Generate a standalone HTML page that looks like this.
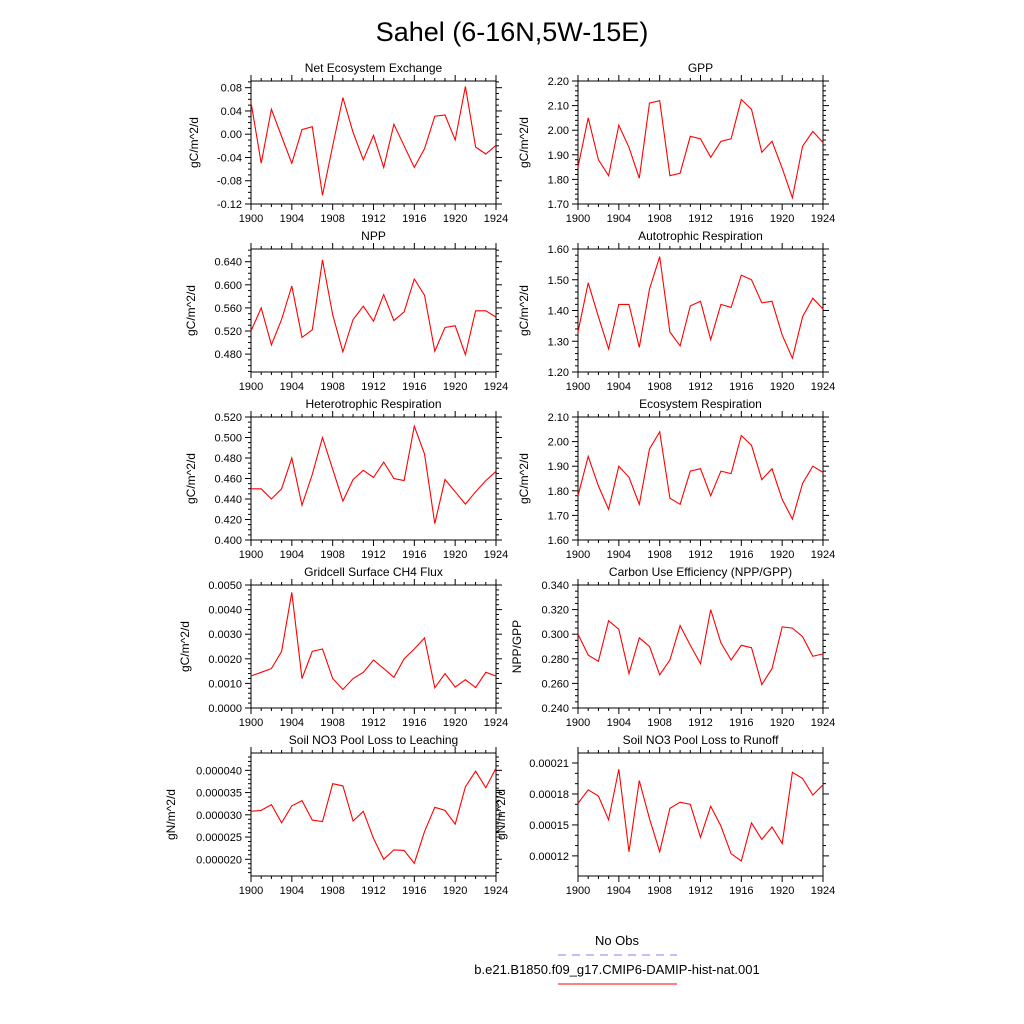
<!DOCTYPE html>
<html><head><meta charset="utf-8"><style>
html,body{margin:0;padding:0;background:#fff;}
svg{display:block;font-family:"Liberation Sans",Arial,sans-serif;}
</style></head><body>
<svg id="fig" width="1024" height="1024" viewBox="0 0 1024 1024">
<rect width="1024" height="1024" fill="#fff"/>
<text x="512" y="41" font-size="27" text-anchor="middle">Sahel (6-16N,5W-15E)</text>
<g>
<text x="617" y="945" font-size="13" text-anchor="middle">No Obs</text>
<line x1="558" y1="955" x2="677" y2="955" stroke="#8080ff" stroke-width="1" stroke-dasharray="8,6"/>
<text x="617" y="974" font-size="13" text-anchor="middle">b.e21.B1850.f09_g17.CMIP6-DAMIP-hist-nat.001</text>
<line x1="558" y1="984" x2="677" y2="984" stroke="#ff0000" stroke-width="1"/>
</g>
</svg>
<script>
const years = [1900,1901,1902,1903,1904,1905,1906,1907,1908,1909,1910,1911,1912,1913,1914,1915,1916,1917,1918,1919,1920,1921,1922,1923,1924];
const xTicks = [1900,1904,1908,1912,1916,1920,1924];
const neeValues = [0.055,-0.05,0.043,-0.004,-0.05,0.008,0.013,-0.105,-0.02,0.063,0.003,-0.044,-0.002,-0.057,0.017,-0.02,-0.057,-0.025,0.031,0.033,-0.01,0.082,-0.022,-0.034,-0.019];
const gppValues = [1.85,2.05,1.88,1.815,2.02,1.93,1.805,2.11,2.12,1.815,1.825,1.975,1.965,1.89,1.955,1.965,2.125,2.085,1.91,1.955,1.845,1.725,1.935,1.995,1.95];
const nppValues = [0.520,0.560,0.496,0.540,0.598,0.509,0.522,0.643,0.548,0.484,0.540,0.563,0.537,0.583,0.538,0.553,0.610,0.582,0.485,0.526,0.529,0.479,0.555,0.555,0.544];
const arValues = [1.33,1.49,1.38,1.275,1.42,1.42,1.28,1.47,1.575,1.33,1.285,1.415,1.43,1.305,1.42,1.41,1.515,1.50,1.425,1.43,1.32,1.245,1.38,1.44,1.405];
const hrValues = [0.450,0.450,0.440,0.450,0.480,0.434,0.464,0.500,0.469,0.438,0.459,0.468,0.461,0.476,0.460,0.458,0.511,0.484,0.416,0.459,0.447,0.435,0.447,0.458,0.467];
const erValues = [1.78,1.94,1.82,1.725,1.90,1.855,1.745,1.97,2.04,1.77,1.745,1.88,1.89,1.78,1.88,1.87,2.025,1.985,1.845,1.89,1.765,1.685,1.83,1.90,1.875];
const ch4Values = [0.0013,0.00145,0.0016,0.0023,0.0047,0.0012,0.0023,0.0024,0.0012,0.00075,0.0012,0.00145,0.00195,0.0016,0.00125,0.002,0.0024,0.00285,0.00082,0.0014,0.00085,0.00115,0.00083,0.00145,0.0013];
const cueValues = [0.300,0.283,0.278,0.311,0.304,0.268,0.297,0.290,0.267,0.279,0.307,0.291,0.276,0.320,0.293,0.279,0.291,0.289,0.259,0.272,0.306,0.305,0.298,0.282,0.284];
const leachValues = [30.8e-6,31.0e-6,32.3e-6,28.2e-6,32.0e-6,33.2e-6,28.8e-6,28.5e-6,37.0e-6,36.5e-6,28.6e-6,30.8e-6,24.7e-6,20.0e-6,22.1e-6,22.0e-6,19.1e-6,26.2e-6,31.7e-6,31.0e-6,27.9e-6,36.3e-6,39.8e-6,36.1e-6,40.5e-6];
const runoffValues = [17.1e-5,18.4e-5,17.8e-5,15.5e-5,20.4e-5,12.4e-5,19.3e-5,15.6e-5,12.4e-5,16.6e-5,17.2e-5,17.0e-5,13.8e-5,16.8e-5,14.9e-5,12.2e-5,11.5e-5,15.2e-5,13.6e-5,14.8e-5,13.2e-5,20.1e-5,19.5e-5,17.9e-5,18.9e-5];
const neeTicks = ["-0.12","-0.08","-0.04","0.00","0.04","0.08"];
const gppTicks = ["1.70","1.80","1.90","2.00","2.10","2.20"];
const nppTicks = ["0.480","0.520","0.560","0.600","0.640"];
const arTicks = ["1.20","1.30","1.40","1.50","1.60"];
const hrTicks = ["0.400","0.420","0.440","0.460","0.480","0.500","0.520"];
const erTicks = ["1.60","1.70","1.80","1.90","2.00","2.10"];
const ch4Ticks = ["0.0000","0.0010","0.0020","0.0030","0.0040","0.0050"];
const cueTicks = ["0.240","0.260","0.280","0.300","0.320","0.340"];
const leachTicks = ["0.000020","0.000025","0.000030","0.000035","0.000040"];
const runoffTicks = ["0.00012","0.00015","0.00018","0.00021"];

const panels = [
 {id:'nee',title:'Net Ecosystem Exchange',col:0,row:0,vals:neeValues,ticks:neeTicks,min:-0.12,max:0.0915,minor:4,yl:'gC/m^2/d',ylx:198},
 {id:'gpp',title:'GPP',col:1,row:0,vals:gppValues,ticks:gppTicks,min:1.70,max:2.20,minor:5,yl:'gC/m^2/d',ylx:528},
 {id:'npp',title:'NPP',col:0,row:1,vals:nppValues,ticks:nppTicks,min:0.449,max:0.662,minor:4,yl:'gC/m^2/d',ylx:195},
 {id:'ar',title:'Autotrophic Respiration',col:1,row:1,vals:arValues,ticks:arTicks,min:1.20,max:1.60,minor:5,yl:'gC/m^2/d',ylx:528},
 {id:'hr',title:'Heterotrophic Respiration',col:0,row:2,vals:hrValues,ticks:hrTicks,min:0.40,max:0.52,minor:4,yl:'gC/m^2/d',ylx:195},
 {id:'er',title:'Ecosystem Respiration',col:1,row:2,vals:erValues,ticks:erTicks,min:1.60,max:2.10,minor:5,yl:'gC/m^2/d',ylx:528},
 {id:'ch4',title:'Gridcell Surface CH4 Flux',col:0,row:3,vals:ch4Values,ticks:ch4Ticks,min:0,max:0.005,minor:5,yl:'gC/m^2/d',ylx:189},
 {id:'cue',title:'Carbon Use Efficiency (NPP/GPP)',col:1,row:3,vals:cueValues,ticks:cueTicks,min:0.24,max:0.34,minor:4,yl:'NPP/GPP',ylx:521},
 {id:'leach',title:'Soil NO3 Pool Loss to Leaching',col:0,row:4,vals:leachValues,ticks:leachTicks,min:16.24e-6,max:43.9e-6,minor:5,yl:'gN/m^2/d',ylx:175},
 {id:'runoff',title:'Soil NO3 Pool Loss to Runoff',col:1,row:4,vals:runoffValues,ticks:runoffTicks,min:10.05e-5,max:21.97e-5,minor:3,yl:'gN/m^2/d',ylx:505}
];
const NS='http://www.w3.org/2000/svg';
const svg=document.getElementById('fig');
function mk(tag,attrs,parent){const e=document.createElementNS(NS,tag);for(const k in attrs)e.setAttribute(k,attrs[k]);parent.appendChild(e);return e;}
panels.forEach(p=>{
 const L=p.col?578:251, R=p.col?823:496, T=81+168*p.row, B=T+123;
 const g=mk('g',{},svg);
 
 
 const xs=v=>L+(v-1900)/24*(R-L);
 const ys=v=>B-(v-p.min)/(p.max-p.min)*(B-T);
 const ax=mk('g',{stroke:'#000','stroke-width':1,fill:'none'},g);
 
 
 mk('rect',{x:L,y:T,width:R-L,height:B-T},ax);
 // x ticks
 for(let y=1900;y<=1924;y++){const x=xs(y);const len=(y%4===0)?6:3;
  mk('line',{x1:x,y1:B,x2:x,y2:B+len},ax);mk('line',{x1:x,y1:T,x2:x,y2:T-len},ax);}
 xTicks.forEach(y=>{const t=mk('text',{x:xs(y),y:B+18,'font-size':11,'text-anchor':'middle'},g);t.textContent=y;
  
  });
 // y ticks
 const vals=p.ticks.map(Number);const step=vals[1]-vals[0];
 const ms=step/p.minor;
 for(let v=vals[0]-step;v<=p.max+1e-12;v+=ms){if(v<p.min-1e-12)continue;const y=ys(v);
  const isMaj=vals.some(t=>Math.abs(t-v)<ms*0.1);const len=isMaj?6:3;
  mk('line',{x1:L,y1:y,x2:L-len,y2:y},ax);mk('line',{x1:R,y1:y,x2:R+len,y2:y},ax);}
 p.ticks.forEach((s,i)=>{const t=mk('text',{x:L-9,y:ys(vals[i])+4,'font-size':11,'text-anchor':'end'},g);t.textContent=s;
  
  });
 const ti=mk('text',{x:(L+R)/2,y:T-9,'font-size':12,'text-anchor':'middle'},g);ti.textContent=p.title;
 
 
 const yl=mk('text',{x:p.ylx,y:(T+B)/2,'font-size':12,'text-anchor':'middle',transform:`rotate(-90 ${p.ylx} ${(T+B)/2})`},g);yl.textContent=p.yl;
 
 
 const pts=p.vals.map((v,i)=>xs(years[i]).toFixed(1)+','+ys(v).toFixed(1)).join(' ');
 const ln=mk('polyline',{points:pts,fill:'none',stroke:'#ff0000','stroke-width':1.1},g);
 
 
});
</script>
</body></html>
